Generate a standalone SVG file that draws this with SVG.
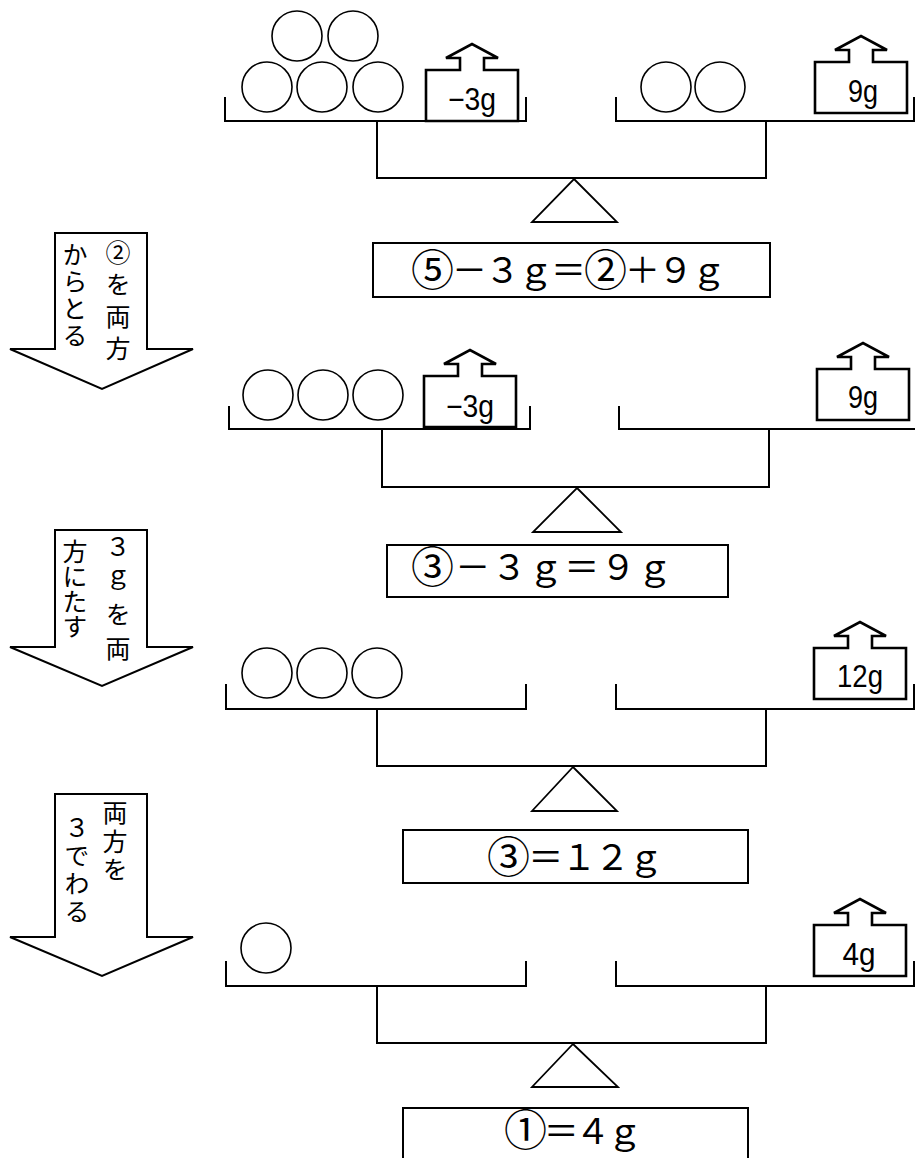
<svg xmlns="http://www.w3.org/2000/svg" width="915" height="1158" viewBox="0 0 915 1158">
<style>
.ln{fill:none;stroke:#000;stroke-width:2}
.ful{fill:#fff;stroke:#000;stroke-width:1.8}
.ball{fill:#fff;stroke:#000;stroke-width:1.6}
.wt{fill:#fff;stroke:#000;stroke-width:2.6;stroke-linejoin:miter}
.box{fill:#fff;stroke:#000;stroke-width:2}
.arr{fill:#fff;stroke:#000;stroke-width:2;stroke-linejoin:miter}
.wtx{font-family:"Liberation Sans",Arial,sans-serif;font-size:31px;fill:#000;text-anchor:middle}
.eq{font-family:"Noto Sans CJK JP","Noto Sans",sans-serif;font-size:35px;fill:#000}
.cn{font-size:43px}
.vt{font-family:"Noto Sans CJK JP",sans-serif;font-size:25px;fill:#000;writing-mode:vertical-rl}
</style>
<defs>
<path id="weight" d="M0,51 V0 H34 V-12 H20 L46,-26 L72,-12 H58 V0 H92 V51 Z"/>
</defs>

<g id="arrows">
<g id="arrow1">
<path class="arr" d="M55,233 H147 V349 H193 L102,389 L10,349 H55 Z"/>
<text class="vt" x="118" y="240" letter-spacing="7">②を両方</text>
<text class="vt" x="75" y="242" letter-spacing="2">からとる</text>
</g>
<g id="arrow2">
<path class="arr" d="M55,530 H147 V647 H193 L102,686 L10,647 H55 Z"/>
<text class="vt" x="118" y="534" letter-spacing="9">３ｇを両</text>
<text class="vt" x="75" y="539" letter-spacing="0">方にたす</text>
</g>
<g id="arrow3">
<path class="arr" d="M55,794 H147 V937 H193 L102,976 L10,937 H55 Z"/>
<text class="vt" x="115" y="800" letter-spacing="3.5">両方を</text>
<text class="vt" x="77" y="815" letter-spacing="3">３でわる</text>
</g>
</g>

<g id="balance1">
<g id="connectors1">
<path class="ln" d="M225,97 V121 H526 V97"/>
<path class="ln" d="M616,97 V121 H914 V97"/>
<path class="ln" d="M377,121 V178 H766 V121"/>
</g>
<polygon class="ful" points="574,179 617,222 532,222"/>
<circle class="ball" cx="267" cy="87" r="25"/>
<circle class="ball" cx="322" cy="87" r="25"/>
<circle class="ball" cx="378" cy="87" r="25"/>
<circle class="ball" cx="297" cy="36" r="25"/>
<circle class="ball" cx="353" cy="36" r="25"/>
<circle class="ball" cx="666" cy="87" r="25"/>
<circle class="ball" cx="720" cy="87" r="25"/>
<g id="w1a"><use href="#weight" class="wt" x="426" y="70"/><text class="wtx" x="472" y="110" textLength="48" lengthAdjust="spacingAndGlyphs">−3g</text></g>
<g id="w1b"><use href="#weight" class="wt" x="815" y="62"/><text class="wtx" x="863" y="102" textLength="30" lengthAdjust="spacingAndGlyphs">9g</text></g>
<g id="eq1"><rect class="box" x="373" y="243" width="397" height="54"/><text class="eq" x="411" y="283" textLength="315" lengthAdjust="spacing"><tspan class="cn" dy="3">⑤</tspan><tspan dy="-3">－３ｇ＝</tspan><tspan class="cn" dy="3">②</tspan><tspan dy="-3">＋９ｇ</tspan></text></g>
</g>

<g id="balance2">
<g id="connectors2">
<path class="ln" d="M229,406 V429 H530 V406"/>
<path class="ln" d="M619,406 V429 H915"/>
<path class="ln" d="M382,429 V487 H769 V429"/>
</g>
<polygon class="ful" points="577,488 621,532 533,532"/>
<circle class="ball" cx="268" cy="395" r="25"/>
<circle class="ball" cx="323" cy="395" r="25"/>
<circle class="ball" cx="378" cy="395" r="25"/>
<g id="w2a"><use href="#weight" class="wt" x="424" y="376"/><text class="wtx" x="470" y="417" textLength="48" lengthAdjust="spacingAndGlyphs">−3g</text></g>
<g id="w2b"><use href="#weight" class="wt" x="817" y="369"/><text class="wtx" x="863" y="408" textLength="30" lengthAdjust="spacingAndGlyphs">9g</text></g>
<g id="eq2"><rect class="box" x="387" y="545" width="341" height="52"/><text class="eq" x="411" y="580" textLength="261" lengthAdjust="spacing"><tspan class="cn" dy="3">③</tspan><tspan dy="-3">－３ｇ＝９ｇ</tspan></text></g>
</g>

<g id="balance3">
<g id="connectors3">
<path class="ln" d="M226,684 V709 H526 V684"/>
<path class="ln" d="M616,684 V709 H914 V684"/>
<path class="ln" d="M377,709 V766 H766 V709"/>
</g>
<polygon class="ful" points="573,767 617,811 532,811"/>
<circle class="ball" cx="267" cy="673" r="25"/>
<circle class="ball" cx="322" cy="673" r="25"/>
<circle class="ball" cx="377" cy="673" r="25"/>
<g id="w3"><use href="#weight" class="wt" x="814" y="648"/><text class="wtx" x="860" y="687" textLength="46" lengthAdjust="spacingAndGlyphs">12g</text></g>
<g id="eq3"><rect class="box" x="403" y="830" width="345" height="53"/><text class="eq" x="487" y="870" textLength="176" lengthAdjust="spacing"><tspan class="cn" dy="3">③</tspan><tspan dy="-3">＝１２ｇ</tspan></text></g>
</g>

<g id="balance4">
<g id="connectors4">
<path class="ln" d="M226,961 V986 H526 V961"/>
<path class="ln" d="M616,961 V986 H914 V961"/>
<path class="ln" d="M377,986 V1043 H766 V986"/>
</g>
<polygon class="ful" points="573,1044 618,1087 532,1087"/>
<circle class="ball" cx="266" cy="948" r="25"/>
<g id="w4"><use href="#weight" class="wt" x="814" y="925"/><text class="wtx" x="859" y="965" textLength="33" lengthAdjust="spacingAndGlyphs">4g</text></g>
<g id="eq4"><rect class="box" x="403" y="1108" width="345" height="60"/><text class="eq" x="504" y="1144" textLength="138" lengthAdjust="spacing"><tspan class="cn" dy="2">①</tspan><tspan dy="-2">＝４ｇ</tspan></text></g>
</g>
</svg>
